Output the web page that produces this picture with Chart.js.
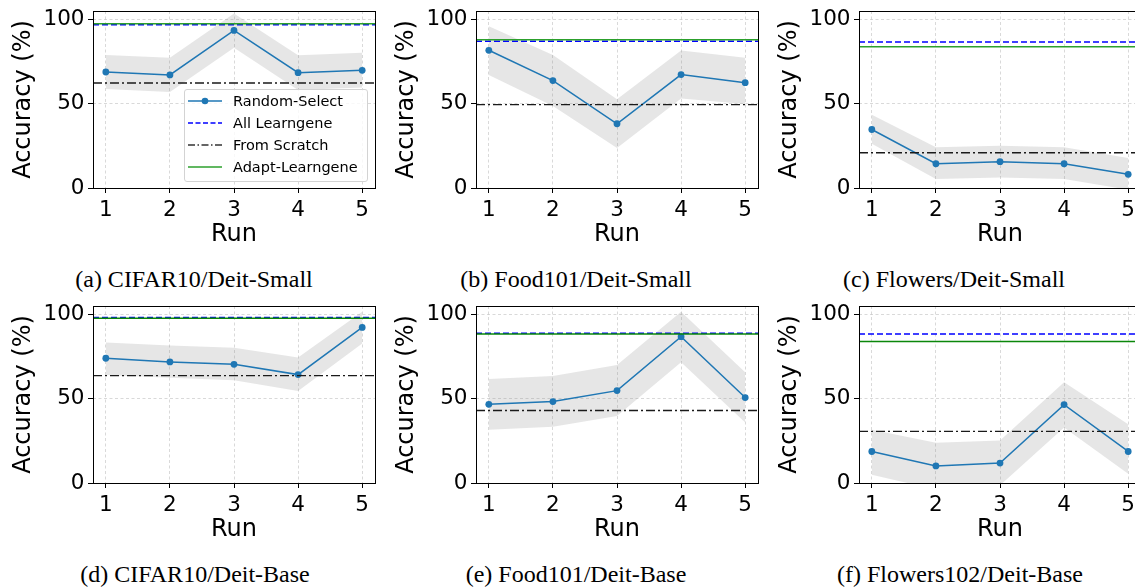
<!DOCTYPE html>
<html>
<head>
<meta charset="utf-8">
<script src="https://cdn.jsdelivr.net/npm/chart.js@4.4.0/dist/chart.umd.min.js"></script>
<style>
html,body{margin:0;padding:0;background:#fff;overflow:hidden;width:1135px;height:587px;}
canvas{position:absolute;display:block;}
.cap{position:absolute;font-family:"Liberation Serif","Times New Roman",serif;font-size:24px;line-height:24px;white-space:nowrap;transform:translateX(-50%);color:#000;}
.legend{position:absolute;left:184px;top:89px;width:182px;height:91px;border:1px solid #d3d3d3;border-radius:3px;background:rgba(255,255,255,0.8);font-family:"DejaVu Sans",sans-serif;font-size:14.5px;color:#000;}
.legend .row{position:absolute;left:0;height:22px;line-height:22px;white-space:nowrap;}
.legend svg{position:absolute;left:3px;top:0;}
.legend span{position:absolute;left:48px;top:0;}
</style>
</head>
<body>
<canvas id="cA" width="380" height="250" style="left:0px;top:0px"></canvas>
<canvas id="cB" width="380" height="250" style="left:383px;top:0px"></canvas>
<canvas id="cC" width="380" height="250" style="left:766px;top:0px"></canvas>
<canvas id="cD" width="380" height="250" style="left:0px;top:295px"></canvas>
<canvas id="cE" width="380" height="250" style="left:383px;top:295px"></canvas>
<canvas id="cF" width="380" height="250" style="left:766px;top:295px"></canvas>

<div class="legend">
  <div class="row" style="top:0px"><svg width="34" height="22"><line x1="0" y1="11" x2="34" y2="11" stroke="#1f77b4" stroke-width="1.5"/><circle cx="17" cy="11" r="3.3" fill="#1f77b4"/></svg><span>Random-Select</span></div>
  <div class="row" style="top:22.1px"><svg width="34" height="22"><line x1="0" y1="11" x2="34" y2="11" stroke="#0000ff" stroke-width="1.5" stroke-dasharray="5,2.5"/></svg><span>All Learngene</span></div>
  <div class="row" style="top:44.2px"><svg width="34" height="22"><line x1="0" y1="11" x2="34" y2="11" stroke="#333" stroke-width="1.5" stroke-dasharray="7,2.5,1.5,2.5"/></svg><span>From Scratch</span></div>
  <div class="row" style="top:66.3px"><svg width="34" height="22"><line x1="0" y1="11" x2="34" y2="11" stroke="#2ca02c" stroke-width="1.5"/></svg><span>Adapt-Learngene</span></div>
</div>

<div class="cap" style="left:194px;top:267px">(a) CIFAR10/Deit-Small</div>
<div class="cap" style="left:576px;top:267px">(b) Food101/Deit-Small</div>
<div class="cap" style="left:954px;top:267px">(c) Flowers/Deit-Small</div>
<div class="cap" style="left:195px;top:562px">(d) CIFAR10/Deit-Base</div>
<div class="cap" style="left:576px;top:562px">(e) Food101/Deit-Base</div>
<div class="cap" style="left:960px;top:562px">(f) Flowers102/Deit-Base</div>

<script>
// ---- data ----
const runs = [1, 2, 3, 4, 5];
const X_MIN = 0.8, X_MAX = 5.2;
const Y_MIN = 0, Y_MAX = 105;
const yStep = 50;

// (a) CIFAR10/Deit-Small
const meanA  = [68.8, 67.1, 93.5, 68.4, 69.8];
const upperA = [78.9, 77.3, 103.5, 78.7, 80.3];
const lowerA = [58.8, 57.0, 83.2, 58.2, 59.6];
const allA = 96.8, scratchA = 62.3, adaptA = 97.4;

// (b) Food101/Deit-Small
const meanB  = [81.7, 63.7, 38.1, 67.3, 62.5];
const upperB = [96.0, 78.9, 52.7, 81.5, 77.3];
const lowerB = [67.1, 48.7, 23.7, 53.1, 49.9];
const allB = 87.0, scratchB = 49.5, adaptB = 88.0;

// (c) Flowers/Deit-Small
const meanC  = [34.7, 14.4, 15.6, 14.4, 8.1];
const upperC = [43.4, 24.1, 25.0, 24.1, 17.8];
const lowerC = [26.2, 5.3, 6.3, 5.3, -1.0];
const allC = 86.6, scratchC = 20.9, adaptC = 83.8;

// (d) CIFAR10/Deit-Base
const meanD  = [74.0, 71.8, 70.4, 64.3, 92.3];
const upperD = [83.4, 81.5, 80.3, 74.4, 101.6];
const lowerD = [64.1, 62.5, 61.0, 54.6, 82.8];
const allD = 98.2, scratchD = 63.7, adaptD = 97.8;

// (e) Food101/Deit-Base
const meanE  = [46.7, 48.3, 54.8, 86.8, 50.7];
const upperE = [61.7, 63.5, 70.0, 101.6, 65.7];
const lowerE = [31.6, 33.3, 39.8, 71.6, 35.9];
const allE = 88.8, scratchE = 43.0, adaptE = 88.4;

// (f) Flowers102/Deit-Base
const meanF  = [18.7, 10.1, 11.8, 46.5, 18.7];
const upperF = [31.6, 23.9, 25.2, 59.8, 34.9];
const lowerF = [4.9, -3.9, -1.4, 32.9, 5.5];
const allF = 88.4, scratchF = 30.6, adaptF = 84.0;

// ---- drawing ----
const FAMILY = "'DejaVu Sans', sans-serif";

const spinePlugin = {
  id: 'spines',
  afterDatasetsDraw(chart) {
    const a = chart.chartArea;
    const ctx = chart.ctx;
    ctx.save();
    ctx.strokeStyle = '#000';
    ctx.lineWidth = 1;
    ctx.strokeRect(Math.round(a.left) + 0.5, Math.round(a.top) + 0.5,
                   Math.round(a.right - a.left), Math.round(a.bottom - a.top));
    ctx.restore();
  }
};

function pts(arr) { return runs.map((r, i) => ({x: r, y: arr[i]})); }
function hline(v) { return [{x: X_MIN, y: v}, {x: X_MAX, y: v}]; }

function makeChart(id, mean, upper, lower, allL, scratch, adapt, green) {
  new Chart(document.getElementById(id), {
    type: 'line',
    data: {
      datasets: [
        {label: 'band-upper', data: pts(upper), borderWidth: 0, pointRadius: 0,
         fill: '+1', backgroundColor: 'rgba(128,128,128,0.2)', order: 5},
        {label: 'band-lower', data: pts(lower), borderWidth: 0, pointRadius: 0,
         fill: false, order: 5},
        {label: 'Random-Select', data: pts(mean), borderColor: '#1f77b4',
         backgroundColor: '#1f77b4', borderWidth: 1.5, pointRadius: 3.4,
         pointBorderWidth: 0, pointBackgroundColor: '#1f77b4', fill: false, order: 4},
        {label: 'All Learngene', data: hline(allL), borderColor: '#0000ff',
         borderDash: [6, 3], borderWidth: 1.5, pointRadius: 0, fill: false, order: 3},
        {label: 'From Scratch', data: hline(scratch), borderColor: '#1a1a1a',
         borderDash: [9, 3, 2, 3], borderWidth: 1.3, pointRadius: 0, fill: false, order: 2},
        {label: 'Adapt-Learngene', data: hline(adapt), borderColor: green,
         borderWidth: 1.5, pointRadius: 0, fill: false, order: 1}
      ]
    },
    options: {
      responsive: false,
      animation: false,
      events: [],
      layout: {padding: {top: 11, right: 5, left: 0, bottom: 0}},
      plugins: {legend: {display: false}, tooltip: {enabled: false}},
      scales: {
        x: {
          type: 'linear', min: X_MIN, max: X_MAX,
          afterFit(s) { s.height = 62; s.paddingLeft = 0; s.paddingRight = 0; },
          ticks: {stepSize: 1, includeBounds: false, autoSkip: false, maxRotation: 0,
                  font: {family: FAMILY, size: 21.5}, color: '#000', padding: 4.5},
          grid: {color: 'rgba(160,160,160,0.5)', lineWidth: 0.8, tickColor: '#000',
                 tickLength: 5, tickWidth: 1, tickBorderDash: [1, 0], borderDash: [3, 2.5]},
          border: {display: false, dash: [3, 2.5]},
          title: {display: true, text: 'Run', color: '#000',
                  font: {family: FAMILY, size: 24}, padding: {top: 0, bottom: 0.8}}
        },
        y: {
          type: 'linear', min: Y_MIN, max: Y_MAX,
          afterFit(s) { s.width = 93; s.paddingTop = 0; s.paddingBottom = 0; },
          ticks: {stepSize: yStep, includeBounds: false, autoSkip: false,
                  font: {family: FAMILY, size: 21.5}, color: '#000', padding: 3.5},
          grid: {color: 'rgba(160,160,160,0.5)', lineWidth: 0.8, tickColor: '#000',
                 tickLength: 5, tickWidth: 1, tickBorderDash: [1, 0], borderDash: [3, 2.5]},
          border: {display: false, dash: [3, 2.5]},
          title: {display: true, text: 'Accuracy (%)', color: '#000',
                  font: {family: FAMILY, size: 24}, padding: {top: 9.6, bottom: 0}}
        }
      }
    },
    plugins: [spinePlugin]
  });
}

makeChart('cA', meanA, upperA, lowerA, allA, scratchA, adaptA, '#2ca02c');
makeChart('cB', meanB, upperB, lowerB, allB, scratchB, adaptB, '#2ca02c');
makeChart('cC', meanC, upperC, lowerC, allC, scratchC, adaptC, '#2ca02c');
makeChart('cD', meanD, upperD, lowerD, allD, scratchD, adaptD, '#0a870a');
makeChart('cE', meanE, upperE, lowerE, allE, scratchE, adaptE, '#0a870a');
makeChart('cF', meanF, upperF, lowerF, allF, scratchF, adaptF, '#0a870a');
</script>
</body>
</html>
